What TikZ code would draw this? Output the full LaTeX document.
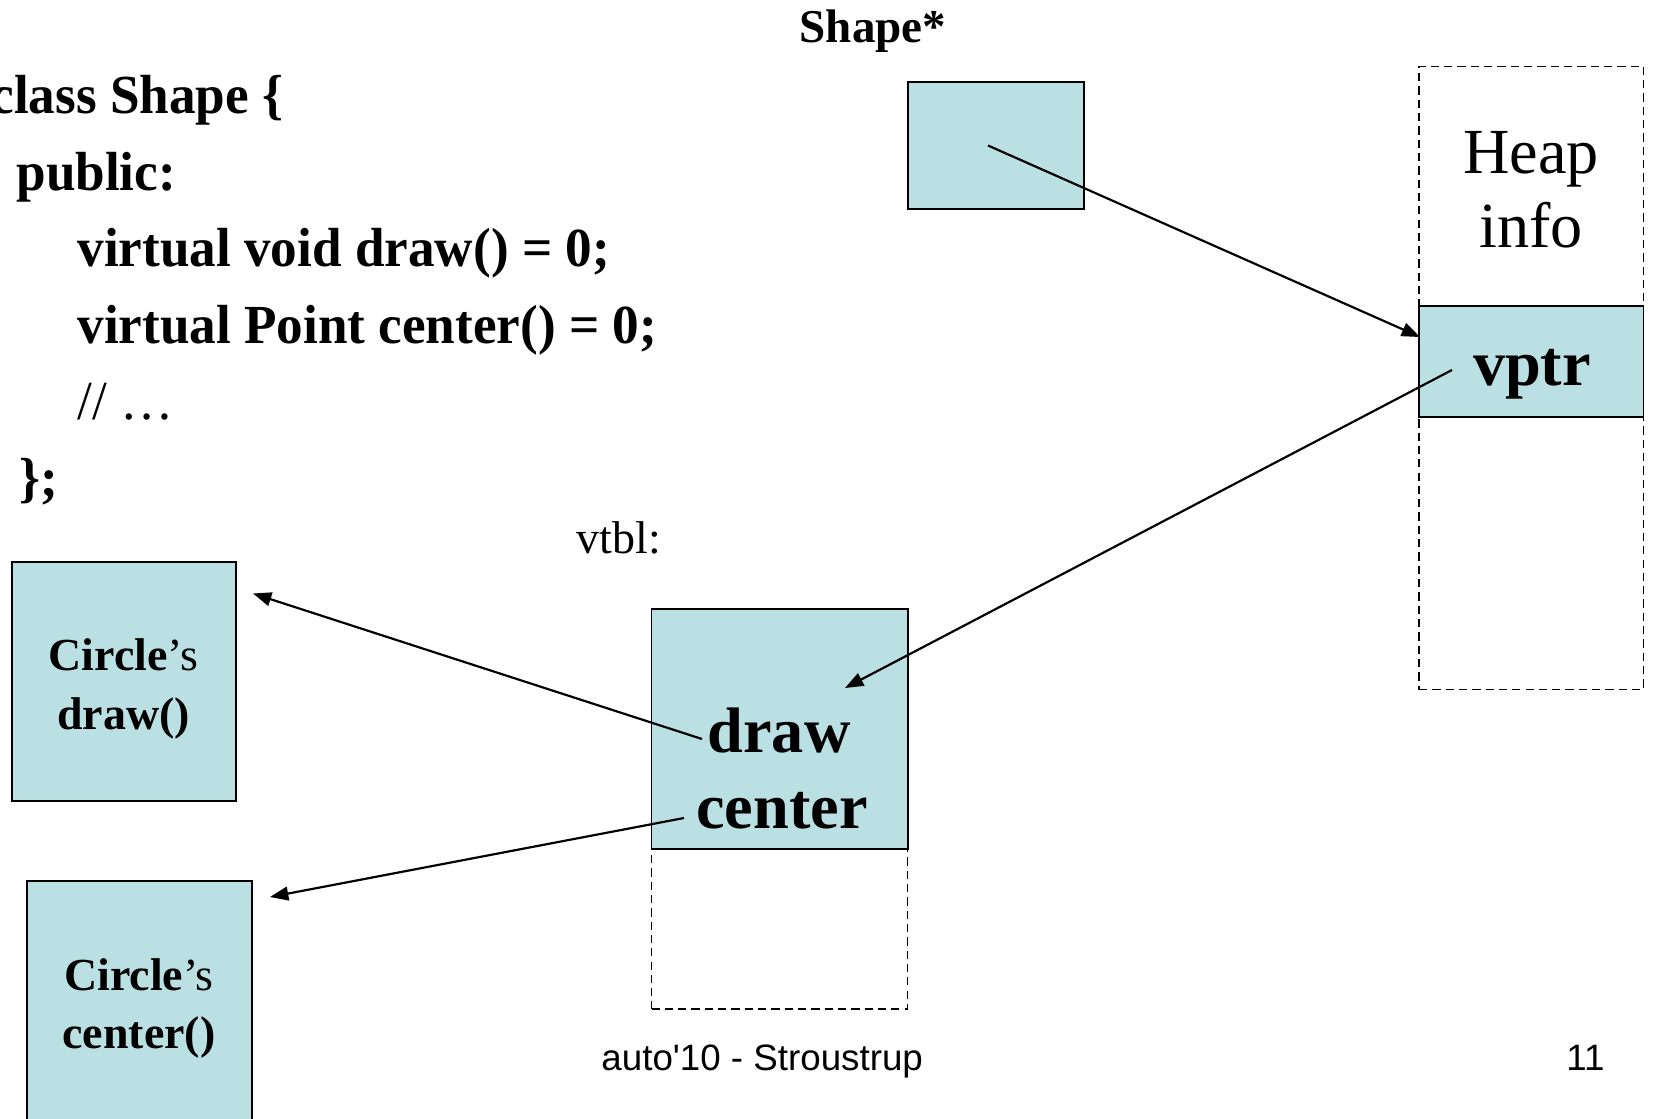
\documentclass[tikz,border=0pt]{standalone}
\usepackage{fontspec}
\setmainfont{Liberation Serif}
\newfontfamily\codefont[FakeStretch=0.965]{Liberation Serif}
\newfontfamily\arialf{Liberation Sans}
\usetikzlibrary{arrows.meta}
\definecolor{boxfill}{RGB}{186,224,228}
\def\pxu{0.43557pt}
\tikzset{
  fillbox/.style={draw=black, line width=0.85pt, fill=boxfill, inner sep=0pt, outer sep=0pt},
  dashbox/.style={draw=black, line width=0.65pt, dash pattern=on 3.6pt off 2.2pt, inner sep=0pt, outer sep=0pt},
  codeline/.style={anchor=base west, inner sep=0pt, font=\codefont\fontsize{24}{28}\selectfont\bfseries},
  lbl/.style={anchor=base, inner sep=0pt},
  ptr/.style={line width=0.95pt, -{Triangle[length=8pt,width=6pt]}},
}
\begin{document}
\begin{tikzpicture}[x=0.43557pt,y=-0.43557pt]
\useasboundingbox (0,0) rectangle (1653,1119);

% code text
\node[codeline] (l1) at (-10,113.5) {class Shape \{};
\node[codeline] (l2) at (16,190) {public:};
\node[codeline] (l3) at (77,266.5) {virtual void draw() = 0;};
\node[codeline] (l4) at (77,343) {virtual Point center() = 0;};
\node[codeline, font=\codefont\fontsize{24}{28}\selectfont] (l5) at (77,419.5) {// …};
\node[codeline] (l6) at (19,496) {\};};

% Shape* pointer
\node[lbl, font=\fontsize{20.5}{24}\selectfont\bfseries] (shapelbl) at (873,42) {Shape*};
\node[fillbox, minimum width=176*\pxu, minimum height=126.5*\pxu] (sptr) at (995.7,145.5) {};

% heap object
\node[fillbox, minimum width=224.5*\pxu, minimum height=111.3*\pxu] (vptrbox) at (1531.25,361.35) {};
\node[dashbox, minimum width=224.5*\pxu, minimum height=623*\pxu] (heap) at (1531.25,378) {};
\draw[line width=0.85pt] (vptrbox.north west) -- (vptrbox.north east) -- (vptrbox.south east);
\node[lbl, font=\fontsize{28}{32}\selectfont] (heap1) at (1531,173) {Heap};
\node[lbl, font=\fontsize{28}{32}\selectfont] (heap2) at (1531,247) {info};
\node[lbl, font=\fontsize{28}{32}\selectfont\bfseries] (vptr) at (1532,385) {vptr};

% vtbl
\node[lbl, font=\fontsize{20}{24}\selectfont] (vtbllbl) at (619,553) {vtbl:};
\node[fillbox, minimum width=256.2*\pxu, minimum height=239.3*\pxu] (vtbl) at (779.6,728.95) {};
\node[dashbox, minimum width=256.2*\pxu, minimum height=160.3*\pxu] (vtbllow) at (779.6,928.75) {};
\node[lbl, font=\fontsize{28}{32}\selectfont\bfseries] (vdraw) at (779,752) {draw};
\node[lbl, font=\fontsize{28}{32}\selectfont\bfseries] (vcenter) at (782,828) {center};

% Circle's functions
\node[fillbox, minimum width=224.5*\pxu, minimum height=239.3*\pxu] (cdraw) at (123.85,681.55) {};
\node[lbl, font=\fontsize{20}{24}\selectfont] (cdraw1) at (123.5,670) {\textbf{Circle}’s};
\node[lbl, font=\fontsize{20}{24}\selectfont\bfseries] (cdraw2) at (123.5,729) {draw()};
\node[fillbox, minimum width=224.6*\pxu, minimum height=253.7*\pxu] (ccenter) at (139.7,1008.15) {};
\node[lbl, font=\fontsize{20}{24}\selectfont] (ccenter1) at (139,990) {\textbf{Circle}’s};
\node[lbl, font=\fontsize{20}{24}\selectfont\bfseries] (ccenter2) at (139,1048) {center()};

% connectors
\coordinate (a1s) at (988,145.5);
\coordinate (a1e) at (1420,337);
\coordinate (a2s) at (1452,370);
\coordinate (a2e) at (845,688);
\coordinate (a3s) at (702,739);
\coordinate (a3e) at (253,593.5);
\coordinate (a4s) at (684,818);
\coordinate (a4e) at (270,897);
\draw[ptr] (a1s) -- (a1e);
\draw[ptr] (a2s) -- (a2e);
\draw[ptr] (a3s) -- (a3e);
\draw[ptr] (a4s) -- (a4e);

% footer
\node[anchor=base west, inner sep=0pt, font=\arialf\fontsize{16}{18}\selectfont] (foot) at (601,1070) {auto\textquotesingle 10 - Stroustrup};
\node[anchor=base east, inner sep=0pt, font=\arialf\fontsize{16}{18}\selectfont] (pnum) at (1605,1070) {11};
\end{tikzpicture}
\end{document}
